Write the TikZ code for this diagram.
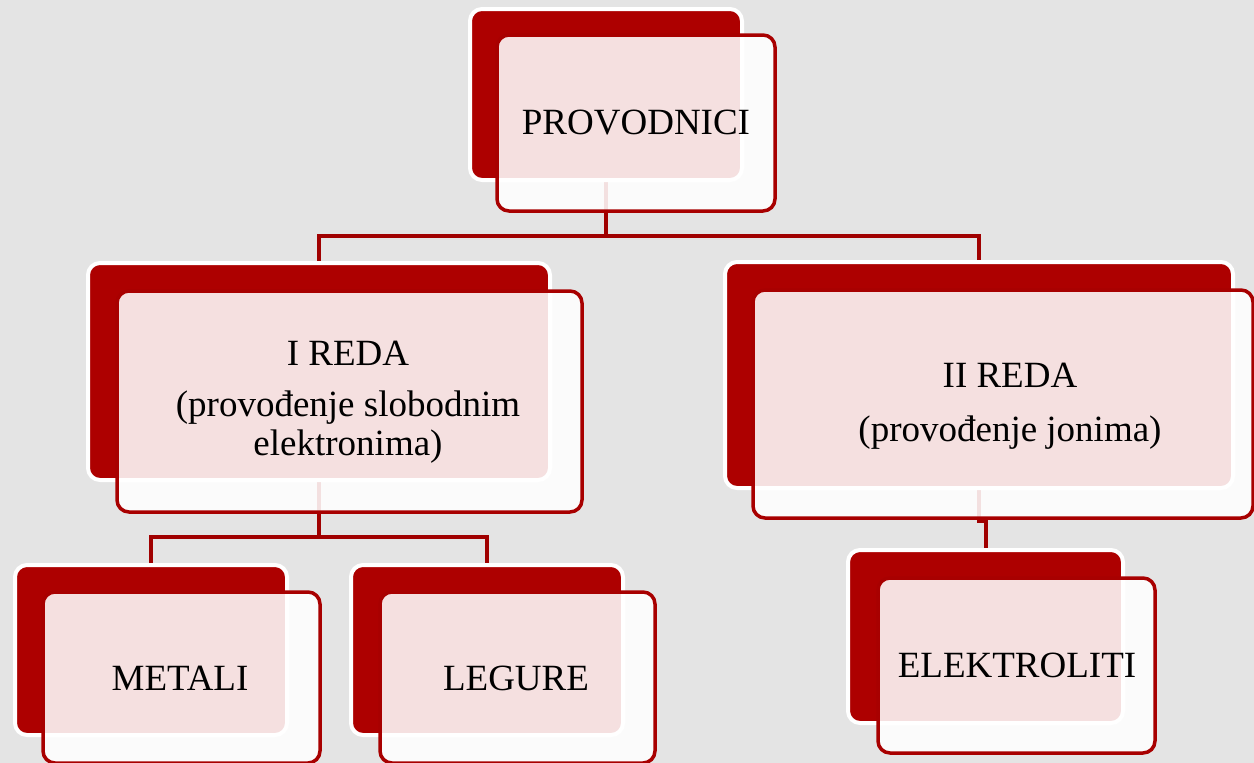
\documentclass[tikz,border=0pt]{standalone}
\usepackage{fontspec}
\setmainfont{Liberation Serif}
\definecolor{cred}{HTML}{AD0000}
\definecolor{cedge}{HTML}{A80000}
\definecolor{cline}{HTML}{A00000}
\definecolor{bgc}{HTML}{E4E4E4}
\begin{document}
\begin{tikzpicture}[x=1pt,y=-1pt,
  backbox/.style={fill=cred, draw=white, line width=4pt, rounded corners=12pt, inner sep=0pt, outer sep=0pt},
  frontbox/.style={fill=white, fill opacity=0.88, draw=cedge, line width=3.5pt, rounded corners=12pt, inner sep=0pt, outer sep=0pt},
  conn/.style={draw=cline, line width=4pt},
  lbl/.style={font=\fontsize{37}{39}\selectfont, align=center, inner sep=0pt, text=black}]
\useasboundingbox (0,0) rectangle (1254,763);
\clip (0,0) rectangle (1254,763);
\fill[bgc] (0,0) rectangle (1254,763);
% junction coordinates
\coordinate (j0) at (0,236);
\coordinate (j1) at (0,537);
\coordinate (j2) at (0,521);
% back boxes (invisible first pass for names)
\path (606,94.5) node[minimum width=272, minimum height=171] (b0) {};
\path (319,371.5) node[minimum width=462, minimum height=217] (b1) {};
\path (979,375) node[minimum width=508, minimum height=226] (b2) {};
\path (151,650) node[minimum width=272, minimum height=170] (b3) {};
\path (487,650) node[minimum width=272, minimum height=170] (b4) {};
\path (985.5,636.5) node[minimum width=275, minimum height=173] (b5) {};
% connectors
\draw[conn] (b0.center) -- (b0.center |- j0) -| (b1.center);
\draw[conn] (b0.center |- j0) -| (b2.center);
\draw[conn] (b1.center) -- (b1.center |- j1) -| (b3.center);
\draw[conn] (b1.center |- j1) -| (b4.center);
\draw[conn] (b2.center) -- (b2.center |- j2) -| (b5.center);
% cards
\node[backbox, minimum width=272, minimum height=171] (c0) at (b0) {};
\node[frontbox, minimum width=278, minimum height=176] (f0) at (636,123) {};
\node[lbl] (t0) at (636,123) {PROVODNICI};

\node[backbox, minimum width=462, minimum height=217] (c1) at (b1) {};
\node[frontbox, minimum width=465, minimum height=221] (f1) at (349.5,401.5) {};
\node[lbl] (t1) at (348,402) {I REDA\\[12pt](provođenje slobodnim\\elektronima)};

\node[backbox, minimum width=508, minimum height=226] (c2) at (b2) {};
\node[frontbox, minimum width=500, minimum height=228] (f2) at (1003,404) {};
\node[lbl] (t2) at (1010,406) {II REDA\\[15pt](provođenje jonima)};

\node[backbox, minimum width=272, minimum height=170] (c3) at (b3) {};
\node[frontbox, minimum width=277, minimum height=171] (f3) at (181.5,677.5) {};
\node[lbl] (t3) at (180,678.5) {METALI};

\node[backbox, minimum width=272, minimum height=170] (c4) at (b4) {};
\node[frontbox, minimum width=275, minimum height=171] (f4) at (517.5,677.5) {};
\node[lbl] (t4) at (516,678.5) {LEGURE};

\node[backbox, minimum width=275, minimum height=173] (c5) at (b5) {};
\node[frontbox, minimum width=277, minimum height=175] (f5) at (1016.5,665.5) {};
\node[lbl] (t5) at (1017,665.5) {ELEKTROLITI};
\end{tikzpicture}
\end{document}
